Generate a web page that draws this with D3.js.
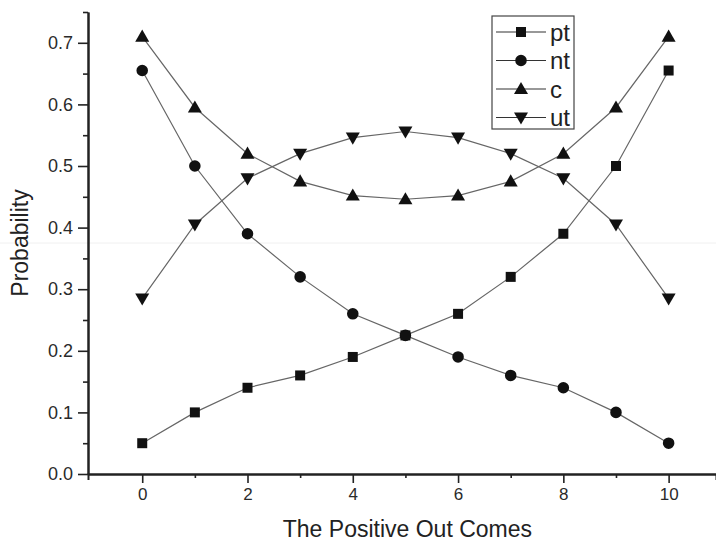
<!DOCTYPE html>
<html>
<head>
<meta charset="utf-8">
<script src="https://cdn.jsdelivr.net/npm/d3@7"></script>
<style>
  body { margin: 0; background: #fff; }
  svg { display: block; font-family: "Liberation Sans", Arial, sans-serif; }
</style>
</head>
<body>
<div id="chart"></div>
<script>
// 1. Data
const outcomes = [0, 1, 2, 3, 4, 5, 6, 7, 8, 9, 10];
const ptValues = [0.05, 0.10, 0.14, 0.16, 0.19, 0.225, 0.26, 0.32, 0.39, 0.50, 0.655];
const ntValues = [0.655, 0.50, 0.39, 0.32, 0.26, 0.225, 0.19, 0.16, 0.14, 0.10, 0.05];
const cValues  = [0.71, 0.595, 0.52, 0.475, 0.452, 0.446, 0.452, 0.475, 0.52, 0.595, 0.71];
const utValues = [0.285, 0.405, 0.48, 0.52, 0.546, 0.556, 0.546, 0.52, 0.48, 0.405, 0.285];
const seriesNames = ["pt", "nt", "c", "ut"];
const xTicks = [0, 2, 4, 6, 8, 10];
const yTicks = [0.0, 0.1, 0.2, 0.3, 0.4, 0.5, 0.6, 0.7];

const symbols = ["square", "circle", "up", "down"];
const allValues = [ptValues, ntValues, cValues, utValues];
const series = seriesNames.map((name, i) => ({name, values: allValues[i], symbol: symbols[i]}));

// 2. Dimensions
const dimensions = {
    width: 716,
    height: 547,
    margin: {top: 12, right: 0, bottom: 73, left: 88},
}
dimensions.boundedWidth = dimensions.width - dimensions.margin.left - dimensions.margin.right
dimensions.boundedHeight = dimensions.height - dimensions.margin.top - dimensions.margin.bottom

const svg = d3.select("#chart")
    .append("svg")
        .attr("width", dimensions.width)
        .attr("height", dimensions.height)

// faint scan line from the original
svg.append("line")
    .attr("x1", 0).attr("x2", dimensions.width)
    .attr("y1", 243).attr("y2", 243)
    .attr("stroke", "#f0f0f0")
    .attr("stroke-width", 1)

const bounds = svg.append("g")
    .attr("transform", `translate(${dimensions.margin.left}, ${dimensions.margin.top})`)

// 3. Scales
const xScale = d3.scaleLinear()
    .domain([-1.03, 10.9])
    .range([0, dimensions.boundedWidth])

const yScale = d3.scaleLinear()
    .domain([0, 0.75])
    .range([dimensions.boundedHeight, 0])

// 4. Axes
const xAxisMinor = d3.axisBottom(xScale)
    .tickValues([1, 3, 5, 7, 9])
    .tickSize(4).tickSizeOuter(0).tickFormat("")
const xAxis = d3.axisBottom(xScale)
    .tickValues(xTicks)
    .tickSize(9).tickSizeOuter(6).tickPadding(5)
    .tickFormat(d3.format("d"))

const yAxisMinor = d3.axisLeft(yScale)
    .tickValues([0.05, 0.15, 0.25, 0.35, 0.45, 0.55, 0.65, 0.75])
    .tickSize(5).tickSizeOuter(0).tickFormat("")
const yAxis = d3.axisLeft(yScale)
    .tickValues(yTicks)
    .tickSize(10).tickSizeOuter(0).tickPadding(5)
    .tickFormat(d3.format(".1f"))

const styleAxis = (g, size) => {
    g.select(".domain").attr("stroke", "#222").attr("stroke-width", 2)
    g.selectAll(".tick line").attr("stroke", "#222").attr("stroke-width", 1.6)
    g.selectAll(".tick text").attr("fill", "#2a2a2a").style("font-size", size + "px")
}

bounds.append("g")
    .attr("transform", `translate(0, ${dimensions.boundedHeight})`)
    .call(xAxisMinor).call(styleAxis, 17)
bounds.append("g")
    .attr("transform", `translate(0, ${dimensions.boundedHeight})`)
    .call(xAxis).call(styleAxis, 17)
bounds.append("g").call(yAxisMinor).call(styleAxis, 18)
bounds.append("g").call(yAxis).call(styleAxis, 18)

// axis labels
svg.append("text")
    .attr("x", dimensions.margin.left + xScale(5) + 2)
    .attr("y", 537)
    .attr("text-anchor", "middle")
    .style("font-size", "23px")
    .attr("fill", "#222")
    .text("The Positive Out Comes")

svg.append("text")
    .attr("transform", `translate(28, ${dimensions.margin.top + yScale(0.375)}) rotate(-90)`)
    .attr("text-anchor", "middle")
    .style("font-size", "23px")
    .attr("fill", "#222")
    .text("Probability")

// 5. Lines and markers
const symbolFor = {
    square: d3.symbol().type(d3.symbolSquare).size(100),
    circle: d3.symbol().type(d3.symbolCircle).size(105),
    up: d3.symbol().type(d3.symbolTriangle).size(85),
    down: d3.symbol().type(d3.symbolTriangle).size(85),
}
const markerTransform = (s, x, y) => s === "down"
    ? `translate(${x}, ${y - 1}) rotate(180)`
    : s === "up" ? `translate(${x}, ${y + 1})` : `translate(${x}, ${y})`

const lineGenerator = d3.line()
    .x((d, i) => xScale(outcomes[i]))
    .y(d => yScale(d))

const seriesGroups = bounds.selectAll(".series")
    .data(series)
    .join("g")
        .attr("class", "series")

seriesGroups.append("path")
    .attr("d", d => lineGenerator(d.values))
    .attr("fill", "none")
    .attr("stroke", "#666")
    .attr("stroke-width", 1.2)

seriesGroups.selectAll(".marker")
    .data(d => d.values.map((v, i) => ({v, i, symbol: d.symbol})))
    .join("path")
        .attr("class", "marker")
        .attr("d", d => symbolFor[d.symbol]())
        .attr("transform", d => markerTransform(d.symbol, xScale(outcomes[d.i]), yScale(d.v)))
        .attr("fill", "#111")

// 6. Legend
const legend = svg.append("g")
    .attr("transform", "translate(492, 16)")

legend.append("rect")
    .attr("width", 82)
    .attr("height", 113)
    .attr("fill", "#fff")
    .attr("stroke", "#444")
    .attr("stroke-width", 1.2)

const legendItems = legend.selectAll(".legend-item")
    .data(series)
    .join("g")
        .attr("class", "legend-item")
        .attr("transform", (d, i) => `translate(0, ${16 + i * 28.5})`)

legendItems.append("line")
    .attr("x1", 4).attr("x2", 54)
    .attr("stroke", "#333")
    .attr("stroke-width", 1.2)

legendItems.append("path")
    .attr("d", d => symbolFor[d.symbol]())
    .attr("transform", d => markerTransform(d.symbol, 29, 0))
    .attr("fill", "#111")

legendItems.append("text")
    .attr("x", 58)
    .attr("dy", "0.36em")
    .style("font-size", "24px")
    .attr("fill", "#222")
    .text(d => d.name)
</script>
</body>
</html>
